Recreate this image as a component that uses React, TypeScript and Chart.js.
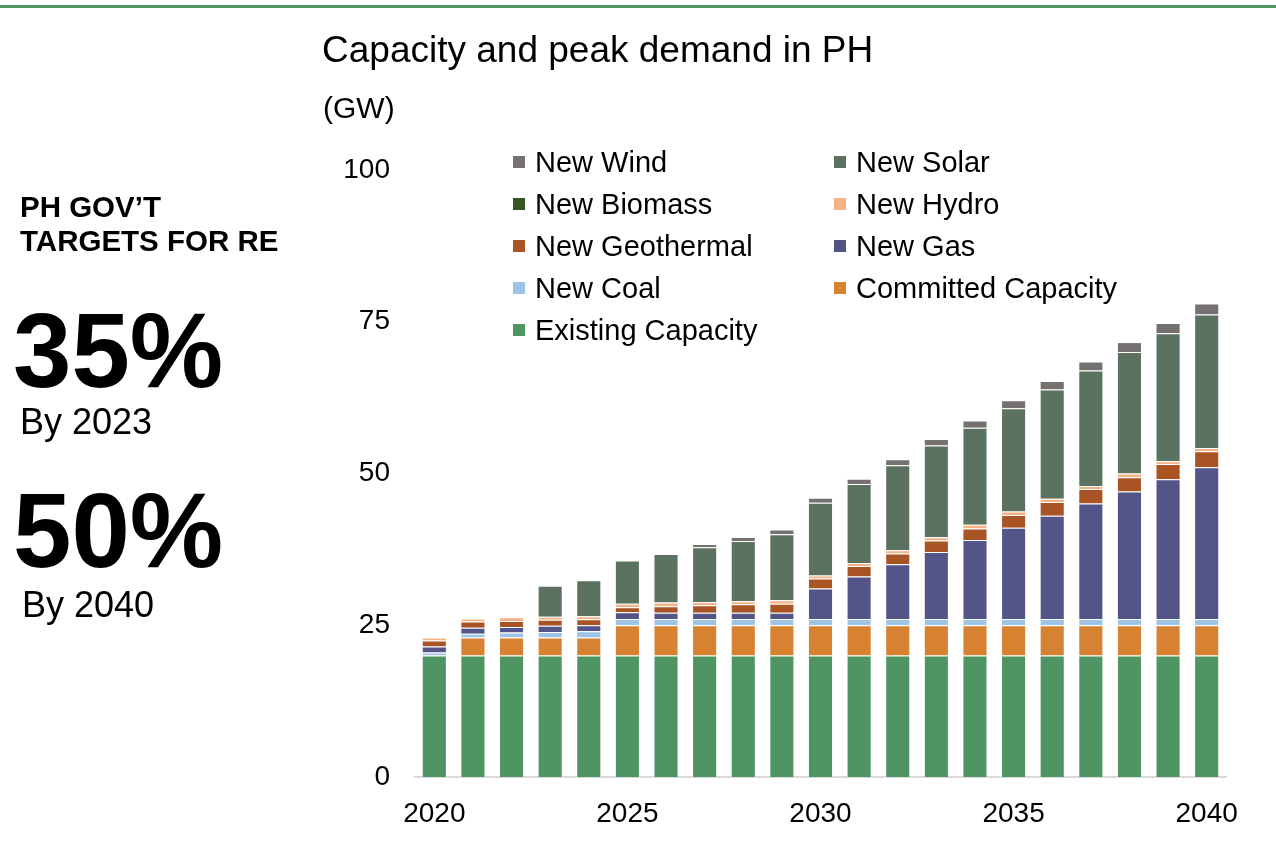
import React, { useEffect, useRef } from "react";
import { Chart, registerables } from "chart.js";

Chart.register(...registerables);

const years = [
  "2020", "2021", "2022", "2023", "2024", "2025", "2026", "2027", "2028", "2029", "2030",
  "2031", "2032", "2033", "2034", "2035", "2036", "2037", "2038", "2039", "2040",
];
const xTickLabels = ["2020", "2025", "2030", "2035", "2040"];
const yTickValues = [0, 25, 50, 75, 100];

const existingCapacity = [20, 20, 20, 20, 20, 20, 20, 20, 20, 20, 20, 20, 20, 20, 20, 20, 20, 20, 20, 20, 20];
const committedCapacity = [0, 3, 3, 3, 3, 5, 5, 5, 5, 5, 5, 5, 5, 5, 5, 5, 5, 5, 5, 5, 5];
const newCoal = [0.5, 0.6, 0.8, 0.9, 1, 1.05, 1.05, 1.05, 1.05, 1.05, 1.05, 1.05, 1.05, 1.05, 1.05, 1.05, 1.05, 1.05, 1.05, 1.05, 1.05];
const newGas = [1, 1, 0.9, 1, 1, 1.1, 1, 1, 1, 1, 5, 7, 9, 11, 13, 15, 17, 19, 21, 23, 25];
const newGeothermal = [1, 1, 1, 1, 1, 0.8, 1.1, 1.25, 1.4, 1.5, 1.65, 1.7, 1.75, 1.9, 1.9, 2.1, 2.25, 2.4, 2.35, 2.5, 2.6];
const newHydro = [0.5, 0.5, 0.6, 0.5, 0.5, 0.6, 0.6, 0.55, 0.5, 0.55, 0.5, 0.5, 0.55, 0.55, 0.6, 0.6, 0.55, 0.5, 0.6, 0.45, 0.55];
const newBiomass = [0, 0, 0, 0, 0, 0, 0, 0, 0, 0, 0, 0, 0, 0, 0, 0, 0, 0, 0, 0, 0];
const newSolar = [0, 0, 0, 5.1, 5.9, 7.1, 8, 9, 9.95, 10.9, 12, 13, 14, 15.1, 16, 17, 18, 19, 20, 21.1, 22];
const newWind = [0, 0, 0, 0, 0, 0, 0, 0.55, 0.65, 0.77, 0.8, 0.9, 1, 1.1, 1.2, 1.3, 1.4, 1.5, 1.65, 1.7, 1.8];

const seriesNames = [
  "Existing Capacity", "Committed Capacity", "New Coal", "New Gas", "New Geothermal",
  "New Hydro", "New Biomass", "New Solar", "New Wind",
];
const seriesColors = [
  "#4E9563", "#D68230", "#9DC3E6", "#535487", "#A85425",
  "#F4B183", "#375623", "#5C7260", "#767171",
];
const seriesValues = [
  existingCapacity, committedCapacity, newCoal, newGas, newGeothermal,
  newHydro, newBiomass, newSolar, newWind,
];

// legend order (two columns, row by row)
const legendOrder = [
  "New Wind", "New Solar", "New Biomass", "New Hydro", "New Geothermal",
  "New Gas", "New Coal", "Committed Capacity", "Existing Capacity",
];

const FONT = '"Liberation Sans", Arial, Helvetica, sans-serif';

export default function App() {
  const canvasRef = useRef<HTMLCanvasElement | null>(null);

  useEffect(() => {
    document.body.style.margin = "0";
    const canvas = canvasRef.current;
    if (!canvas) return;
    const chart = new Chart(canvas, {
      type: "bar",
      data: {
        labels: years,
        datasets: seriesNames.map((name, i) => ({
          label: name,
          data: seriesValues[i],
          backgroundColor: seriesColors[i],
          borderColor: "rgba(255,255,255,0.45)",
          borderWidth: 1,
          barPercentage: 0.65,
          categoryPercentage: 1,
        })),
      },
      options: {
        animation: false,
        responsive: false,
        maintainAspectRatio: false,
        layout: { padding: { left: 335, right: 50, top: 170, bottom: 17 } },
        plugins: {
          legend: { display: false },
          title: { display: false },
          tooltip: { enabled: false },
        },
        scales: {
          x: {
            stacked: true,
            grid: { display: true, color: "rgba(0,0,0,0)", drawTicks: false },
            border: { display: true, color: "#D9D9D9", width: 2 },
            ticks: {
              autoSkip: false,
              maxRotation: 0,
              padding: 20,
              color: "#000",
              font: { family: FONT, size: 28 },
              callback: (_v: any, idx: number) =>
                xTickLabels.includes(years[idx]) ? years[idx] : "",
            },
            afterFit: (scale: any) => {
              scale.height = 60;
            },
          },
          y: {
            stacked: true,
            min: 0,
            max: 100,
            grid: { display: false, drawTicks: false },
            border: { display: false },
            afterBuildTicks: (scale: any) => {
              scale.ticks = yTickValues.map((v) => ({ value: v }));
            },
            ticks: {
              padding: 25,
              color: "#000",
              font: { family: FONT, size: 28 },
            },
            afterFit: (scale: any) => {
              scale.width = 80;
            },
          },
        },
      },
    });
    return () => chart.destroy();
  }, []);

  const legendItem = (name: string) => {
    const idx = seriesNames.indexOf(name);
    return (
      <div key={name} style={{ display: "flex", alignItems: "center", height: 42 }}>
        <div style={{ width: 12, height: 12, background: seriesColors[idx], marginRight: 10 }} />
        <span style={{ fontFamily: FONT, fontSize: 29, color: "#000", whiteSpace: "nowrap" }}>{name}</span>
      </div>
    );
  };

  return (
    <div style={{ position: "fixed", left: 0, top: 0, width: 1276, height: 854, background: "#fff", overflow: "hidden" }}>
      <div style={{ position: "absolute", left: 0, top: 5, width: 1276, height: 3, background: "#4E9563" }} />
      <canvas ref={canvasRef} width={1276} height={854} style={{ position: "absolute", left: 0, top: 0, width: 1276, height: 854 }} />
      <div style={{ position: "absolute", left: 322, top: 27, fontFamily: FONT, fontSize: 37, color: "#000", whiteSpace: "nowrap", lineHeight: "46px" }}>
        Capacity and peak demand in PH
      </div>
      <div style={{ position: "absolute", left: 323, top: 90, fontFamily: FONT, fontSize: 30, color: "#000", lineHeight: "36px" }}>
        (GW)
      </div>
      <div style={{ position: "absolute", left: 513, top: 141, display: "grid", gridTemplateColumns: "321px auto" }}>
        {legendOrder.map((n) => legendItem(n))}
      </div>
      <div style={{ position: "absolute", left: 20, top: 190, fontFamily: FONT, fontWeight: "bold", fontSize: 29.5, lineHeight: "34px", color: "#000", whiteSpace: "nowrap" }}>
        PH GOV’T<br />TARGETS FOR RE
      </div>
      <div style={{ position: "absolute", left: 13, top: 296, fontFamily: FONT, fontWeight: "bold", fontSize: 105, lineHeight: "110px", color: "#000" }}>
        35%
      </div>
      <div style={{ position: "absolute", left: 20, top: 401, fontFamily: FONT, fontSize: 36, lineHeight: "42px", color: "#000" }}>
        By 2023
      </div>
      <div style={{ position: "absolute", left: 13, top: 476, fontFamily: FONT, fontWeight: "bold", fontSize: 105, lineHeight: "110px", color: "#000" }}>
        50%
      </div>
      <div style={{ position: "absolute", left: 22, top: 584, fontFamily: FONT, fontSize: 36, lineHeight: "42px", color: "#000" }}>
        By 2040
      </div>
    </div>
  );
}
